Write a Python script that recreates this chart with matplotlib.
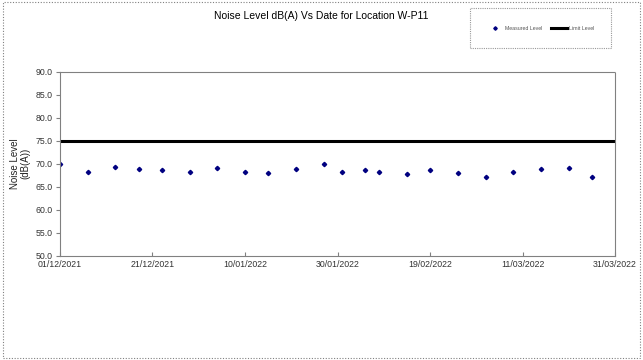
import matplotlib.pyplot as plt
import matplotlib.dates as mdates
from matplotlib.patches import Rectangle
import datetime as dt

plt.rcParams['font.family'] = ['Liberation Sans', 'DejaVu Sans']

dates = ['2021-12-01', '2021-12-07', '2021-12-13', '2021-12-18', '2021-12-23',
         '2021-12-29', '2022-01-04', '2022-01-10', '2022-01-15', '2022-01-21',
         '2022-01-27', '2022-01-31', '2022-02-05', '2022-02-08', '2022-02-14',
         '2022-02-19', '2022-02-25', '2022-03-03', '2022-03-09', '2022-03-15',
         '2022-03-21', '2022-03-26']
levels = [70.0, 68.2, 69.3, 68.9, 68.6, 68.2, 69.1, 68.3, 68.0, 68.9, 69.9,
          68.2, 68.7, 68.2, 67.8, 68.6, 68.0, 67.2, 68.3, 68.8, 69.0, 67.2]
limit = 75.0
x_ticks = ['2021-12-01', '2021-12-21', '2022-01-10', '2022-01-30',
           '2022-02-19', '2022-03-11', '2022-03-31']
y_ticks = [50, 55, 60, 65, 70, 75, 80, 85, 90]

to_date = lambda s: dt.datetime.strptime(s, '%Y-%m-%d')
xd = [to_date(d) for d in dates]
xt = [to_date(d) for d in x_ticks]

fig = plt.figure(figsize=(6.43, 3.6), dpi=100)
ax = fig.add_axes([0.0933, 0.289, 0.8632, 0.512])

ax.plot(xd, levels, ls='none', marker='D', ms=2.2, color='#000080',
        label='Measured Level')
ax.plot([xt[0], xt[-1]], [limit, limit], color='black', lw=2.2,
        label='Limit Level')

ax.set_xlim(xt[0], xt[-1])
ax.set_ylim(50, 90)
ax.set_xticks(xt)
ax.xaxis.set_major_formatter(mdates.DateFormatter('%d/%m/%Y'))
ax.set_yticks(y_ticks)
ax.set_yticklabels(['%.1f' % v for v in y_ticks])
ax.tick_params(axis='x', direction='in', length=3, labelsize=6.3,
               colors='#808080', labelcolor='#333333', pad=3)
ax.tick_params(axis='y', direction='out', length=3, labelsize=6.3,
               colors='#808080', labelcolor='#333333', pad=2)

for side in ['top', 'right']:
    ax.spines[side].set_linestyle((0, (1, 1)))
    ax.spines[side].set_color('#808080')
    ax.spines[side].set_linewidth(0.8)
for side in ['left', 'bottom']:
    ax.spines[side].set_color('#808080')
    ax.spines[side].set_linewidth(0.8)

ax.set_ylabel('Noise Level\n(dB(A))', fontsize=7, color='#222222',
              linespacing=1.1, labelpad=4)
fig.text(0.5, 0.955, 'Noise Level dB(A) Vs Date for Location W-P11',
         ha='center', va='center', fontsize=7.5)

leg = fig.legend(loc='center', bbox_to_anchor=(0.841, 0.922), ncol=2,
                 fontsize=3.8, frameon=True, fancybox=False,
                 borderpad=3.3, handlelength=3, columnspacing=1.5,
                 handletextpad=0.4, markerscale=0.8)
leg.get_frame().set_edgecolor('#808080')
leg.get_frame().set_linestyle((0, (1, 1)))
leg.get_frame().set_linewidth(0.8)
for t in leg.get_texts():
    t.set_color('#555555')

fig.patches.append(Rectangle((0.004, 0.006), 0.992, 0.988,
                             transform=fig.transFigure, fill=False,
                             ec='#808080', lw=0.8, ls=(0, (1, 1.5))))

fig.savefig('out.png', dpi=100)
